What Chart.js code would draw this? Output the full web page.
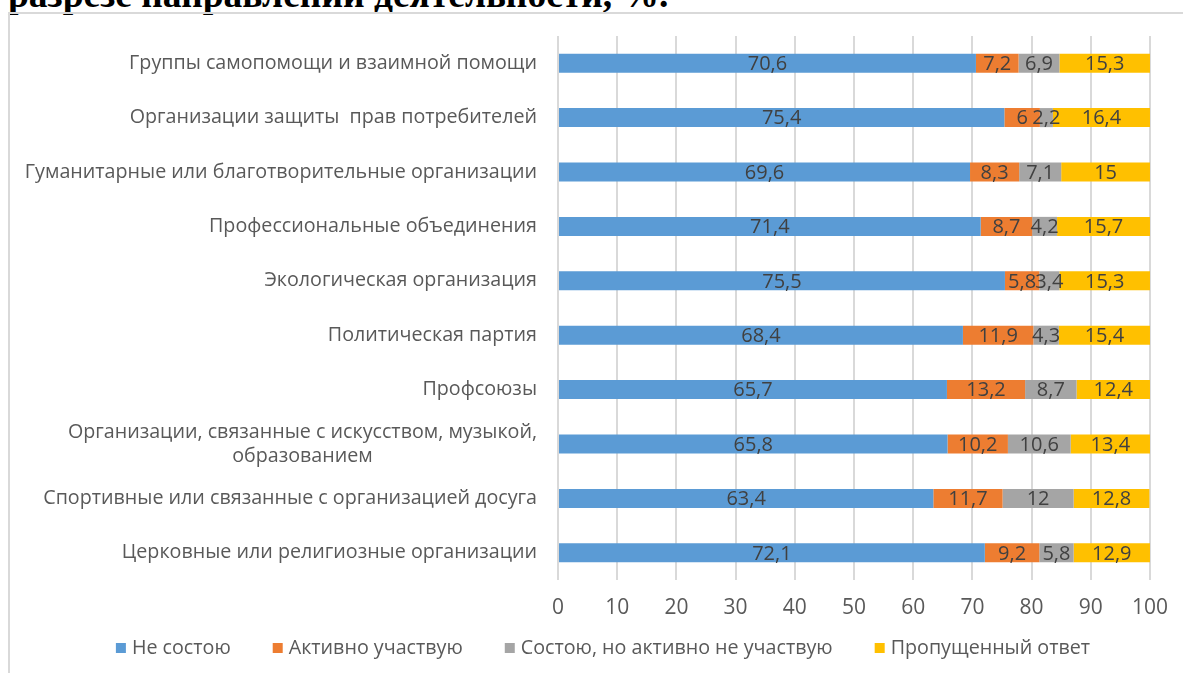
<!DOCTYPE html>
<html>
<head>
    <meta charset="utf-8">
    <title>Участие в организациях</title>
    <style>
        body { margin: 0; background: #fff; overflow: hidden; }
        .title {
            position: absolute; left: 8px; top: -24px;
            font: bold 37.5px "Liberation Serif", serif; line-height: 37px;
            color: #000; white-space: nowrap;
        }
        .frame {
            position: absolute; left: 8px; top: 12px; width: 1200px; height: 700px;
            border: 2px solid #d9d9d9; box-sizing: border-box;
        }
        .chart-container { position: absolute; left: 0; top: 0; width: 1183px; height: 673px; }
    </style>
</head>
<body>
    <div class="title">разрезе направлений деятельности, %.</div>
    <div class="frame"></div>
    <div class="chart-container">
        <canvas id="chartId" width="1183" height="673"></canvas>
    </div>

    <script src="https://cdn.jsdelivr.net/npm/chart.js@4.4.1/dist/chart.umd.min.js"></script>

    <script>
        // categories, top to bottom as in the picture
        var categories = [
            "Группы самопомощи и взаимной помощи",
            "Организации защиты  прав потребителей",
            "Гуманитарные или благотворительные организации",
            "Профессиональные объединения",
            "Экологическая организация",
            "Политическая партия",
            "Профсоюзы",
            ["Организации, связанные с искусством, музыкой,", "образованием"],
            "Спортивные или связанные с организацией досуга",
            "Церковные или религиозные организации"
        ];
        var seriesNames = ["Не состою", "Активно участвую", "Состою, но активно не участвую", "Пропущенный ответ"];
        var notMember = [70.6, 75.4, 69.6, 71.4, 75.5, 68.4, 65.7, 65.8, 63.4, 72.1];
        var active = [7.2, 6, 8.3, 8.7, 5.8, 11.9, 13.2, 10.2, 11.7, 9.2];
        var passive = [6.9, 2.2, 7.1, 4.2, 3.4, 4.3, 8.7, 10.6, 12, 5.8];
        var missing = [15.3, 16.4, 15, 15.7, 15.3, 15.4, 12.4, 13.4, 12.8, 12.9];
        var xTicks = [0, 10, 20, 30, 40, 50, 60, 70, 80, 90, 100];

        var colors = ["#5b9bd5", "#ed7d31", "#a5a5a5", "#ffc000"];
        var FONT = "'Open Sans', sans-serif";

        // category labels on the left (multi-line ones centered on their own block)
        var yLabels = {
            id: 'yLabels',
            afterDraw: function(chart) {
                var ctx = chart.ctx, y = chart.scales.y;
                var right = chart.chartArea.left - 21;
                ctx.save();
                ctx.font = "19.7px " + FONT;
                ctx.fillStyle = "#595959";
                ctx.textBaseline = "middle";
                categories.forEach(function(lab, i) {
                    var cy = y.getPixelForValue(i);
                    var lines = Array.isArray(lab) ? lab : [lab];
                    var w = Math.max.apply(null, lines.map(function(l) { return ctx.measureText(l).width; }));
                    var lh = 24;
                    lines.forEach(function(l, j) {
                        var ly = cy + (j - (lines.length - 1) / 2) * lh;
                        if (lines.length > 1) {
                            ctx.textAlign = "center";
                            ctx.fillText(l, right - w / 2, ly);
                        } else {
                            ctx.textAlign = "right";
                            ctx.fillText(l, right, ly);
                        }
                    });
                });
                ctx.restore();
            }
        };

        // value labels in the middle of each segment
        var valueLabels = {
            id: 'valueLabels',
            afterDatasetsDraw: function(chart) {
                var ctx = chart.ctx;
                ctx.save();
                ctx.font = "20px " + FONT;
                ctx.fillStyle = "#404040";
                ctx.textAlign = "center";
                ctx.textBaseline = "middle";
                chart.data.datasets.forEach(function(ds, di) {
                    chart.getDatasetMeta(di).data.forEach(function(bar, i) {
                        var cx = (bar.x + bar.base) / 2;
                        ctx.fillText(String(ds.data[i]).replace(".", ","), cx, bar.y + 1);
                    });
                });
                ctx.restore();
            }
        };

        // legend row under the axis: small square, short gap, text
        var bottomLegend = {
            id: 'bottomLegend',
            afterDraw: function(chart) {
                var ctx = chart.ctx;
                var box = 10, gap = 6, spacing = 42, cy = 648;
                ctx.save();
                ctx.font = "19.7px " + FONT;
                ctx.textBaseline = "middle";
                ctx.textAlign = "left";
                var widths = chart.data.datasets.map(function(ds) { return ctx.measureText(ds.label).width; });
                var total = widths.reduce(function(a, w) { return a + box + gap + w; }, 0) + spacing * (widths.length - 1);
                var x = 603 - total / 2;
                chart.data.datasets.forEach(function(ds, k) {
                    ctx.fillStyle = ds.backgroundColor;
                    ctx.fillRect(x, cy - box / 2, box, box);
                    ctx.fillStyle = "#595959";
                    ctx.fillText(ds.label, x + box + gap, cy);
                    x += box + gap + widths[k] + spacing;
                });
                ctx.restore();
            }
        };

        var chrt = document.getElementById("chartId").getContext("2d");
        var chartId = new Chart(chrt, {
            type: 'bar',
            data: {
                labels: categories,
                datasets: [notMember, active, passive, missing].map(function(vals, k) {
                    return {
                        label: seriesNames[k],
                        data: vals,
                        backgroundColor: colors[k],
                        borderWidth: 0,
                        categoryPercentage: 1,
                        barPercentage: 0.35
                    };
                })
            },
            options: {
                indexAxis: 'y',
                responsive: false,
                animation: false,
                layout: { padding: { top: 36, right: 33, bottom: 43, left: 0 } },
                scales: {
                    x: {
                        stacked: true,
                        min: 0, max: 100,
                        afterBuildTicks: function(scale) {
                            scale.ticks = xTicks.map(function(v) { return { value: v }; });
                        },
                        grid: { color: "#d9d9d9", lineWidth: 2, drawTicks: false },
                        border: { display: false },
                        ticks: { color: "#595959", font: { family: FONT, size: 21 }, padding: 15, maxRotation: 0 },
                        afterFit: function(scale) { scale.height = 50; }
                    },
                    y: {
                        stacked: true,
                        grid: { display: false },
                        border: { display: false },
                        ticks: { display: false },
                        afterFit: function(scale) { scale.width = 558; }
                    }
                },
                plugins: {
                    legend: { display: false },
                    tooltip: { enabled: false }
                }
            },
            plugins: [yLabels, valueLabels, bottomLegend]
        });
    </script>
</body>
</html>
